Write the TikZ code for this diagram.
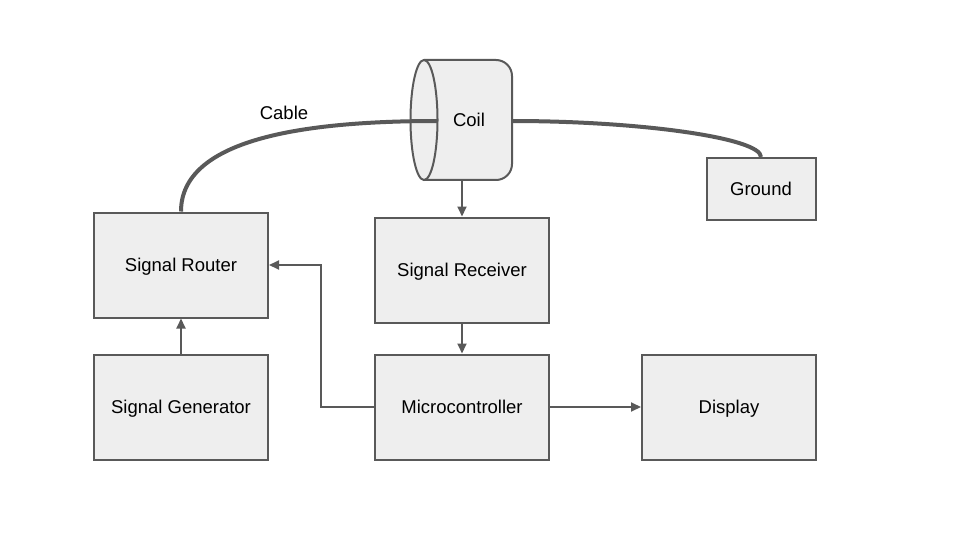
\documentclass[tikz,border=0pt]{standalone}
\usepackage{fontspec}
\setmainfont{Liberation Sans}
\usetikzlibrary{arrows.meta}
\definecolor{edge}{HTML}{595959}
\definecolor{boxfill}{HTML}{EEEEEE}
\begin{document}
\begin{tikzpicture}[x=1pt,y=-1pt,
	lbl/.style={font=\fontsize{18.5}{22}\selectfont,text depth=0pt},
	box/.style={lbl,draw=edge,fill=boxfill,line width=2pt,minimum width=174pt,minimum height=105pt},
	link/.style={draw=edge,line width=2pt,-{Triangle[length=10pt,width=9pt]}},
	cable/.style={draw=edge,line width=4pt}]
	\useasboundingbox (0,0) rectangle (960,540);
	\node[box] (router) at (181,265) {Signal Router};
	\node[box] (gen) at (181,407) {Signal Generator};
	\node[box] (rcv) at (462,270) {Signal Receiver};
	\node[box] (mcu) at (462,407) {Microcontroller};
	\node[box] (disp) at (729,407) {Display};
	\node[box,minimum width=109pt,minimum height=62pt] (gnd) at (761,189) {Ground};
	% coil
	\draw[draw=edge,fill=boxfill,line width=2pt,rounded corners=16pt] (424,60) -- (512,60) -- (512,180) -- (424,180);
	\draw[draw=edge,fill=boxfill,line width=2pt] (424,120) ellipse (13.5 and 60);
	\node[lbl] (coil) at (469,120) {Coil};
	\coordinate (coilin) at (437.5,121);
	\coordinate (coilout) at (512,121);
	\coordinate (coilbot) at (462,180);
	\draw[cable] (router.north) .. controls (181,140) and (300,121) .. (coilin);
	\draw[cable] (coilout) .. controls (640,121) and (761,138) .. (gnd.north);
	\node[lbl] (cablelbl) at (284,113) {Cable};
	% arrows
	\draw[link] (coilbot) -- (rcv.north);
	\draw[link] (rcv) -- (mcu);
	\draw[link] (gen) -- (router);
	\draw[link] (mcu.west) -- (321,407) -- (321,265) -- (router.east);
	\draw[link] (mcu) -- (disp);
\end{tikzpicture}
\end{document}
